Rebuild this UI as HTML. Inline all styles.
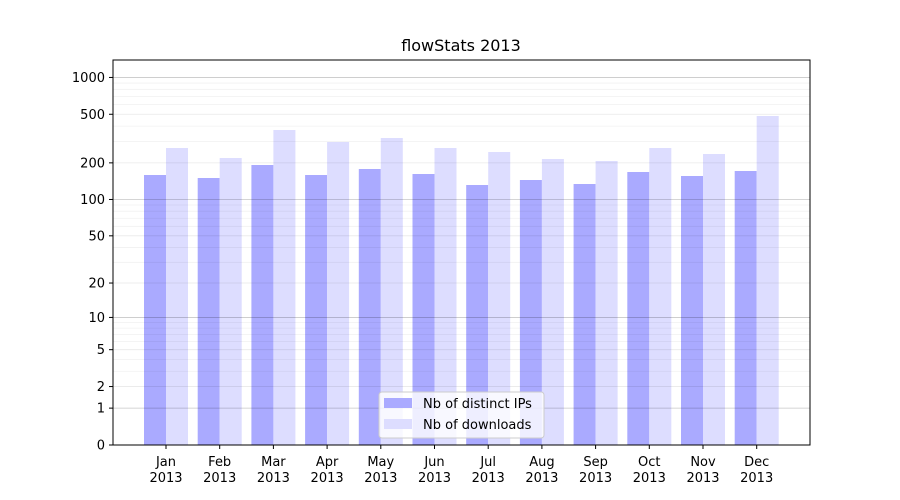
<!DOCTYPE html>
<html><head><meta charset="utf-8"><style>body{margin:0;background:#fff}svg{display:block;font-family:"DejaVu Sans","Liberation Sans",sans-serif}</style></head>
<body>
<svg id="s" width="900" height="500" xmlns="http://www.w3.org/2000/svg">
<rect width="900" height="500" fill="#fff"/>
<g id="bars"></g>
<g id="grid"></g>
<rect x="113" y="60" width="697" height="385" fill="none" stroke="#000" stroke-width="1"/>
<g id="ticks" font-size="13" fill="#000"></g>
<text x="461" y="51" font-size="16" text-anchor="middle">flowStats 2013</text>
<g>
<rect x="379" y="392" width="165" height="46" rx="3" fill="#fff" fill-opacity="0.8" stroke="#ccc"/>
<rect x="384" y="398" width="28" height="10" fill="#aaaaff"/>
<rect x="384" y="419" width="28" height="10" fill="#ddddff"/>
<text x="423" y="408" font-size="13">Nb of distinct IPs</text>
<text x="423" y="429" font-size="13">Nb of downloads</text>
</g>
</svg>
<script>
var NS="http://www.w3.org/2000/svg";
function el(p,t,a,txt){var e=document.createElementNS(NS,t);for(var k in a)e.setAttribute(k,a[k]);if(txt!=null)e.textContent=txt;document.getElementById(p).appendChild(e);}
function Y(v){return 445-122.5*Math.log10(1+v);}
var minors=[3,4,6,7,8,9,30,40,60,70,80,90,300,400,600,700,800,900];
minors.forEach(function(v){var y=Y(v);el("grid","line",{x1:113,x2:810,y1:y,y2:y,stroke:"#000","stroke-opacity":0.06,"stroke-width":0.8});});
var majors=[0,1,2,5,10,20,50,100,200,500,1000];
majors.forEach(function(v){var y=Y(v);var o=[1,10,100,1000].indexOf(v)>=0?0.22:0.09;
el("grid","line",{x1:113,x2:810,y1:y,y2:y,stroke:"#000","stroke-opacity":o,"stroke-width":0.8});
el("ticks","line",{x1:109,x2:113,y1:y,y2:y,stroke:"#000"});
el("ticks","text",{x:105,y:y+4.5,"text-anchor":"end"},v);});
var dt=[175,178,165,175,169,174,185,180,184,172,176,171];
var lt=[148,158,130,142,138,148,152,159,161,148,154,116];
var m=["Jan","Feb","Mar","Apr","May","Jun","Jul","Aug","Sep","Oct","Nov","Dec"];
for(var i=0;i<12;i++){var c=166+i*53.7;
el("bars","rect",{x:c-22,y:dt[i],width:22,height:445-dt[i],fill:"#aaaaff"});
el("bars","rect",{x:c,y:lt[i],width:22,height:445-lt[i],fill:"#ddddff"});
el("ticks","line",{x1:c,x2:c,y1:445,y2:449,stroke:"#000"});
el("ticks","text",{x:c,y:466,"text-anchor":"middle"},m[i]);
el("ticks","text",{x:c,y:482,"text-anchor":"middle"},"2013");}
</script>
</body></html>
